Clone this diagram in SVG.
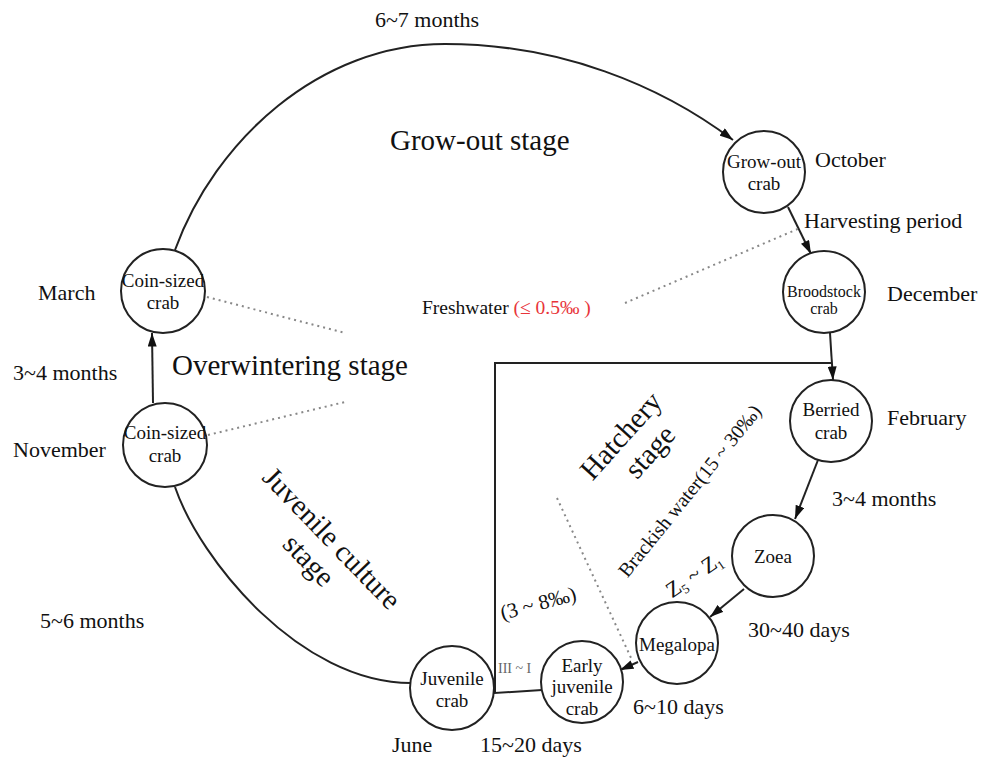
<svg xmlns="http://www.w3.org/2000/svg" width="983" height="757" viewBox="0 0 983 757">
<defs>
<style>
text{font-family:"Liberation Serif","Times New Roman",serif;fill:#111}
.node circle{fill:#fff;stroke:#222;stroke-width:2}
.nt{font-size:19px;text-anchor:middle}
.lab{font-size:22px}
.big{font-size:29px}
.conn path,.conn line,.conn polyline{fill:none;stroke:#222;stroke-width:2}
.dot{fill:none;stroke:#888;stroke-width:2;stroke-dasharray:2 4}
</style>
<marker id="arr" viewBox="0 0 12 8" refX="12" refY="4" markerWidth="14" markerHeight="9" markerUnits="userSpaceOnUse" orient="auto">
<path d="M0,0 L12,4 L0,8 z" fill="#111"/>
</marker>
</defs>
<rect width="983" height="757" fill="#fff"/>

<g id="connectors" class="conn">
<path d="M175,250 C215,140 320,44 445,44 C560,44 660,85 733,140" marker-end="url(#arr)"/>
<path d="M175,487 C200,560 300,683 411,683"/>
<line x1="153" y1="403" x2="152" y2="333" marker-end="url(#arr)"/>
<line x1="788" y1="207" x2="811" y2="254" marker-end="url(#arr)"/>
<line x1="830" y1="333" x2="833" y2="380" marker-end="url(#arr)"/>
<polyline points="832,363 495,363 495,693 542,690"/>
<line x1="818" y1="460" x2="795" y2="519" marker-end="url(#arr)"/>
<line x1="744" y1="589" x2="710" y2="617" marker-end="url(#arr)"/>
<line x1="638" y1="662" x2="620" y2="670" marker-end="url(#arr)"/>
</g>

<g id="dotted">
<line class="dot" x1="207" y1="297" x2="345" y2="333"/>
<line class="dot" x1="208" y1="435" x2="345" y2="402"/>
<line class="dot" x1="625" y1="303" x2="800" y2="228"/>
<line class="dot" x1="557" y1="498" x2="632" y2="660"/>
</g>

<g id="n-growout" class="node"><circle cx="764" cy="172" r="41"/><text class="nt" x="764" y="168">Grow-out</text><text class="nt" x="764" y="190">crab</text></g>
<g id="n-broodstock" class="node"><circle cx="824" cy="292" r="41"/><text class="nt" x="824" y="297" style="font-size:16px">Broodstock</text><text class="nt" x="824" y="314" style="font-size:16px">crab</text></g>
<g id="n-berried" class="node"><circle cx="831" cy="421" r="41"/><text class="nt" x="831" y="416">Berried</text><text class="nt" x="831" y="439">crab</text></g>
<g id="n-zoea" class="node"><circle cx="773" cy="556" r="41"/><text class="nt" x="773" y="563">Zoea</text></g>
<g id="n-megalopa" class="node"><circle cx="677" cy="643" r="41"/><text class="nt" x="677" y="651">Megalopa</text></g>
<g id="n-early" class="node"><circle cx="582" cy="682" r="41"/><text class="nt" x="582" y="672">Early</text><text class="nt" x="582" y="693">juvenile</text><text class="nt" x="582" y="715">crab</text></g>
<g id="n-juvenile" class="node"><circle cx="452" cy="688" r="42"/><text class="nt" x="452" y="685">Juvenile</text><text class="nt" x="452" y="707">crab</text></g>
<g id="n-coin-march" class="node"><circle cx="163" cy="291" r="42"/><text class="nt" x="163" y="287">Coin-sized</text><text class="nt" x="163" y="309">crab</text></g>
<g id="n-coin-nov" class="node"><circle cx="165" cy="445" r="42"/><text class="nt" x="165" y="439">Coin-sized</text><text class="nt" x="165" y="462">crab</text></g>

<g id="labels">
<text class="lab" x="427" y="27" text-anchor="middle">6~7 months</text>
<text class="big" x="390" y="150">Grow-out stage</text>
<text class="lab" x="815" y="167">October</text>
<text class="lab" x="804" y="228">Harvesting period</text>
<text class="lab" x="887" y="301">December</text>
<text class="lab" x="887" y="425">February</text>
<text class="lab" x="832" y="506">3~4 months</text>
<text class="lab" x="748" y="637">30~40 days</text>
<text class="lab" x="633" y="714">6~10 days</text>
<text class="lab" x="480" y="752">15~20 days</text>
<text class="lab" x="392" y="752">June</text>
<text class="lab" x="40" y="628">5~6 months</text>
<text class="lab" x="13" y="457">November</text>
<text class="lab" x="13" y="380">3~4 months</text>
<text class="lab" x="38" y="300">March</text>
<text class="big" x="172" y="375">Overwintering stage</text>
<text x="422" y="314" style="font-size:19.5px">Freshwater <tspan fill="#e8353a">(≤ 0.5‰ )</tspan></text>
<g transform="translate(325,545) rotate(46)"><text class="big" text-anchor="middle">Juvenile culture</text></g>
<g transform="translate(302,567) rotate(46)"><text class="big" text-anchor="middle">stage</text></g>
<g transform="translate(628,442) rotate(-48)"><text class="big" text-anchor="middle">Hatchery</text></g>
<g transform="translate(657,458) rotate(-48)"><text class="big" text-anchor="middle">stage</text></g>
<g transform="translate(695,495) rotate(-51)"><text text-anchor="middle" style="font-size:20px">Brackish water(15 ~ 30‰)</text></g>
<g transform="translate(698,581) rotate(-34)"><text text-anchor="middle" style="font-size:22px">Z<tspan style="font-size:13px" dy="4">5</tspan><tspan dy="-4"> ~ Z</tspan><tspan style="font-size:13px" dy="4">1</tspan></text></g>
<g transform="translate(540,610) rotate(-15)"><text text-anchor="middle" style="font-size:21px">(3 ~ 8‰)</text></g>
<text x="498" y="673" style="font-size:14px;fill:#666">III ~ I</text>
</g>
</svg>
